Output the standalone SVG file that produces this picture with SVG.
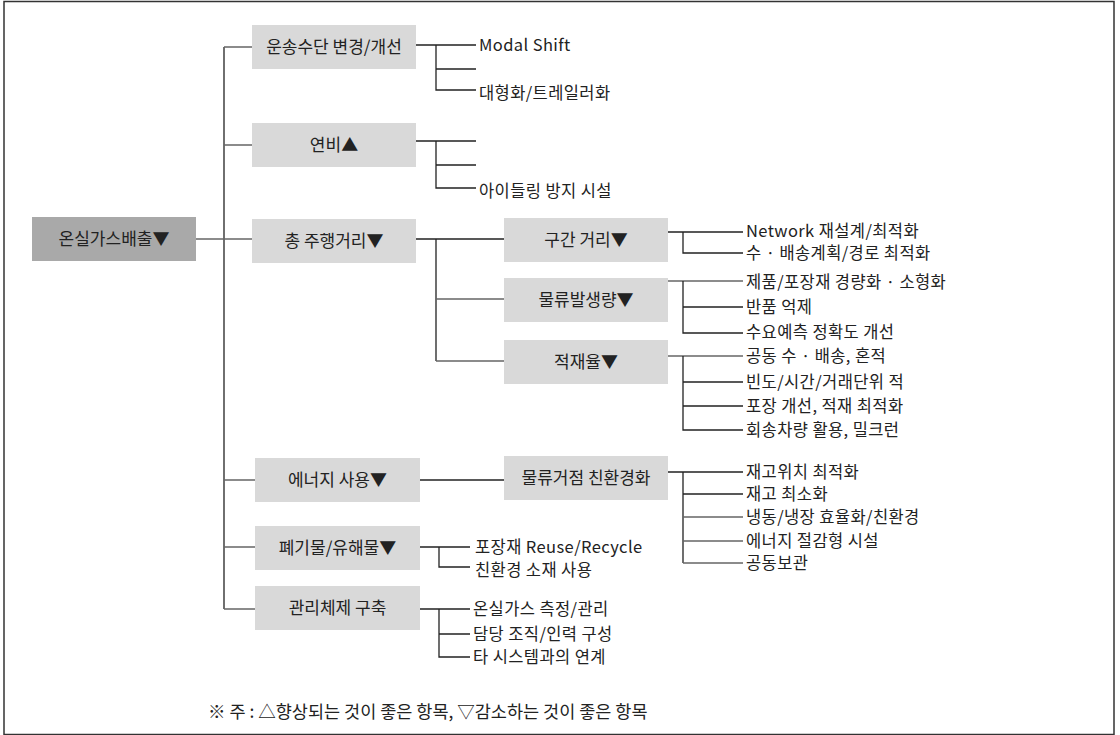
<svg xmlns="http://www.w3.org/2000/svg" width="1120" height="735" viewBox="0 0 1120 735">
<style>
  text { font-family: "Noto Sans CJK KR", "Liberation Sans", sans-serif; font-size: 17px; fill: #222; }
  .c { text-anchor: middle; }
  .lf { font-size: 16.5px; letter-spacing: 0.4px; }
  .box { fill: #d9d9d9; }
  .root { fill: #a9a9a9; }
  .ln { fill: none; stroke: #222; stroke-width: 1.3; }
  .lg { fill: none; stroke: #666; stroke-width: 1.3; }
  .note { font-size: 17.5px; }
</style>
<rect x="0" y="0" width="1120" height="735" fill="#fff"/>
<rect x="4" y="1.5" width="1110" height="733" fill="none" stroke="#333" stroke-width="1.5"/>

<g id="connectors">
  <path class="ln" d="M224 47 V609"/>
  <path class="lg" d="M224 47 H252 M224 145 H252 M224 480 H255 M224 547 H255 M224 609 H255"/>
  <path class="lg" d="M196 239 H252"/>
  <path class="ln" d="M416 45 H476 M436 45 V90 H476 M436 69 H476"/>
  <path class="ln" d="M416 141 H476 M436 141 V188 H476 M436 165 H476"/>
  <path class="ln" d="M416 239 H504 M436 239 V361"/>
  <path class="lg" d="M436 299 H504 M436 361 H504"/>
  <path class="ln" d="M668 232 H743 M683 232 V253 H743"/>
  <path class="lg" d="M668 281 H743"/>
  <path class="ln" d="M683 281 V333 H743 M683 307 H743"/>
  <path class="lg" d="M668 356 H743"/>
  <path class="ln" d="M683 356 V430 H743 M683 382 H743 M683 406 H743"/>
  <path class="ln" d="M420 480 H504"/>
  <path class="ln" d="M668 472 H743 M683 472 V563 M683 494 H743"/>
  <path class="lg" d="M683 517 H743 M683 541 H743 M683 563 H743"/>
  <path class="ln" d="M420 547 H470 M439 547 V567 H470"/>
  <path class="ln" d="M420 609 H470 M439 609 V657 H470 M439 634 H470"/>
</g>

<g id="root">
  <rect class="root" x="32" y="217" width="164" height="44"/>
  <text class="c" x="114" y="245">온실가스배출▼</text>
</g>

<g id="n-transport">
  <rect class="box" x="252" y="25" width="164" height="44"/>
  <text class="c" x="334" y="53">운송수단 변경/개선</text>
</g>
<g id="n-fuel">
  <rect class="box" x="252" y="123" width="164" height="44"/>
  <text class="c" x="334" y="151">연비▲</text>
</g>
<g id="n-distance">
  <rect class="box" x="252" y="219" width="164" height="44"/>
  <text class="c" x="334" y="247">총 주행거리▼</text>
</g>
<g id="n-energy">
  <rect class="box" x="255" y="458" width="165" height="44"/>
  <text class="c" x="337.5" y="486">에너지 사용▼</text>
</g>
<g id="n-waste">
  <rect class="box" x="255" y="526" width="165" height="44"/>
  <text class="c" x="337.5" y="554">폐기물/유해물▼</text>
</g>
<g id="n-mgmt">
  <rect class="box" x="255" y="586" width="165" height="44"/>
  <text class="c" x="337.5" y="614">관리체제 구축</text>
</g>

<g id="n-section">
  <rect class="box" x="504" y="218" width="164" height="44"/>
  <text class="c" x="586" y="246">구간 거리▼</text>
</g>
<g id="n-volume">
  <rect class="box" x="504" y="278" width="164" height="44"/>
  <text class="c" x="586" y="306">물류발생량▼</text>
</g>
<g id="n-load">
  <rect class="box" x="504" y="340" width="164" height="44"/>
  <text class="c" x="586" y="368">적재율▼</text>
</g>
<g id="n-hub">
  <rect class="box" x="504" y="456" width="164" height="44"/>
  <text class="c" x="586" y="484">물류거점 친환경화</text>
</g>

<g id="leaves">
  <text class="lf" x="479" y="51">Modal Shift</text>
  <text class="lf" x="479" y="99">대형화/트레일러화</text>
  <text class="lf" x="479" y="197">아이들링 방지 시설</text>

  <text class="lf" x="746" y="237">Network 재설계/최적화</text>
  <text class="lf" x="746" y="259">수 · 배송계획/경로 최적화</text>
  <text class="lf" x="746" y="288">제품/포장재 경량화 · 소형화</text>
  <text class="lf" x="746" y="313">반품 억제</text>
  <text class="lf" x="746" y="338">수요예측 정확도 개선</text>
  <text class="lf" x="746" y="362">공동 수 · 배송, 혼적</text>
  <text class="lf" x="746" y="388">빈도/시간/거래단위 적</text>
  <text class="lf" x="746" y="412">포장 개선, 적재 최적화</text>
  <text class="lf" x="746" y="436">회송차량 활용, 밀크런</text>

  <text class="lf" x="746" y="478">재고위치 최적화</text>
  <text class="lf" x="746" y="500">재고 최소화</text>
  <text class="lf" x="746" y="523">냉동/냉장 효율화/친환경</text>
  <text class="lf" x="746" y="547">에너지 절감형 시설</text>
  <text class="lf" x="746" y="569">공동보관</text>

  <text class="lf" x="475" y="553">포장재 Reuse/Recycle</text>
  <text class="lf" x="475" y="576">친환경 소재 사용</text>

  <text class="lf" x="473" y="615">온실가스 측정/관리</text>
  <text class="lf" x="473" y="640">담당 조직/인력 구성</text>
  <text class="lf" x="473" y="663">타 시스템과의 연계</text>
</g>

<text class="note" x="208" y="718">※ 주 : △향상되는 것이 좋은 항목, ▽감소하는 것이 좋은 항목</text>
</svg>
